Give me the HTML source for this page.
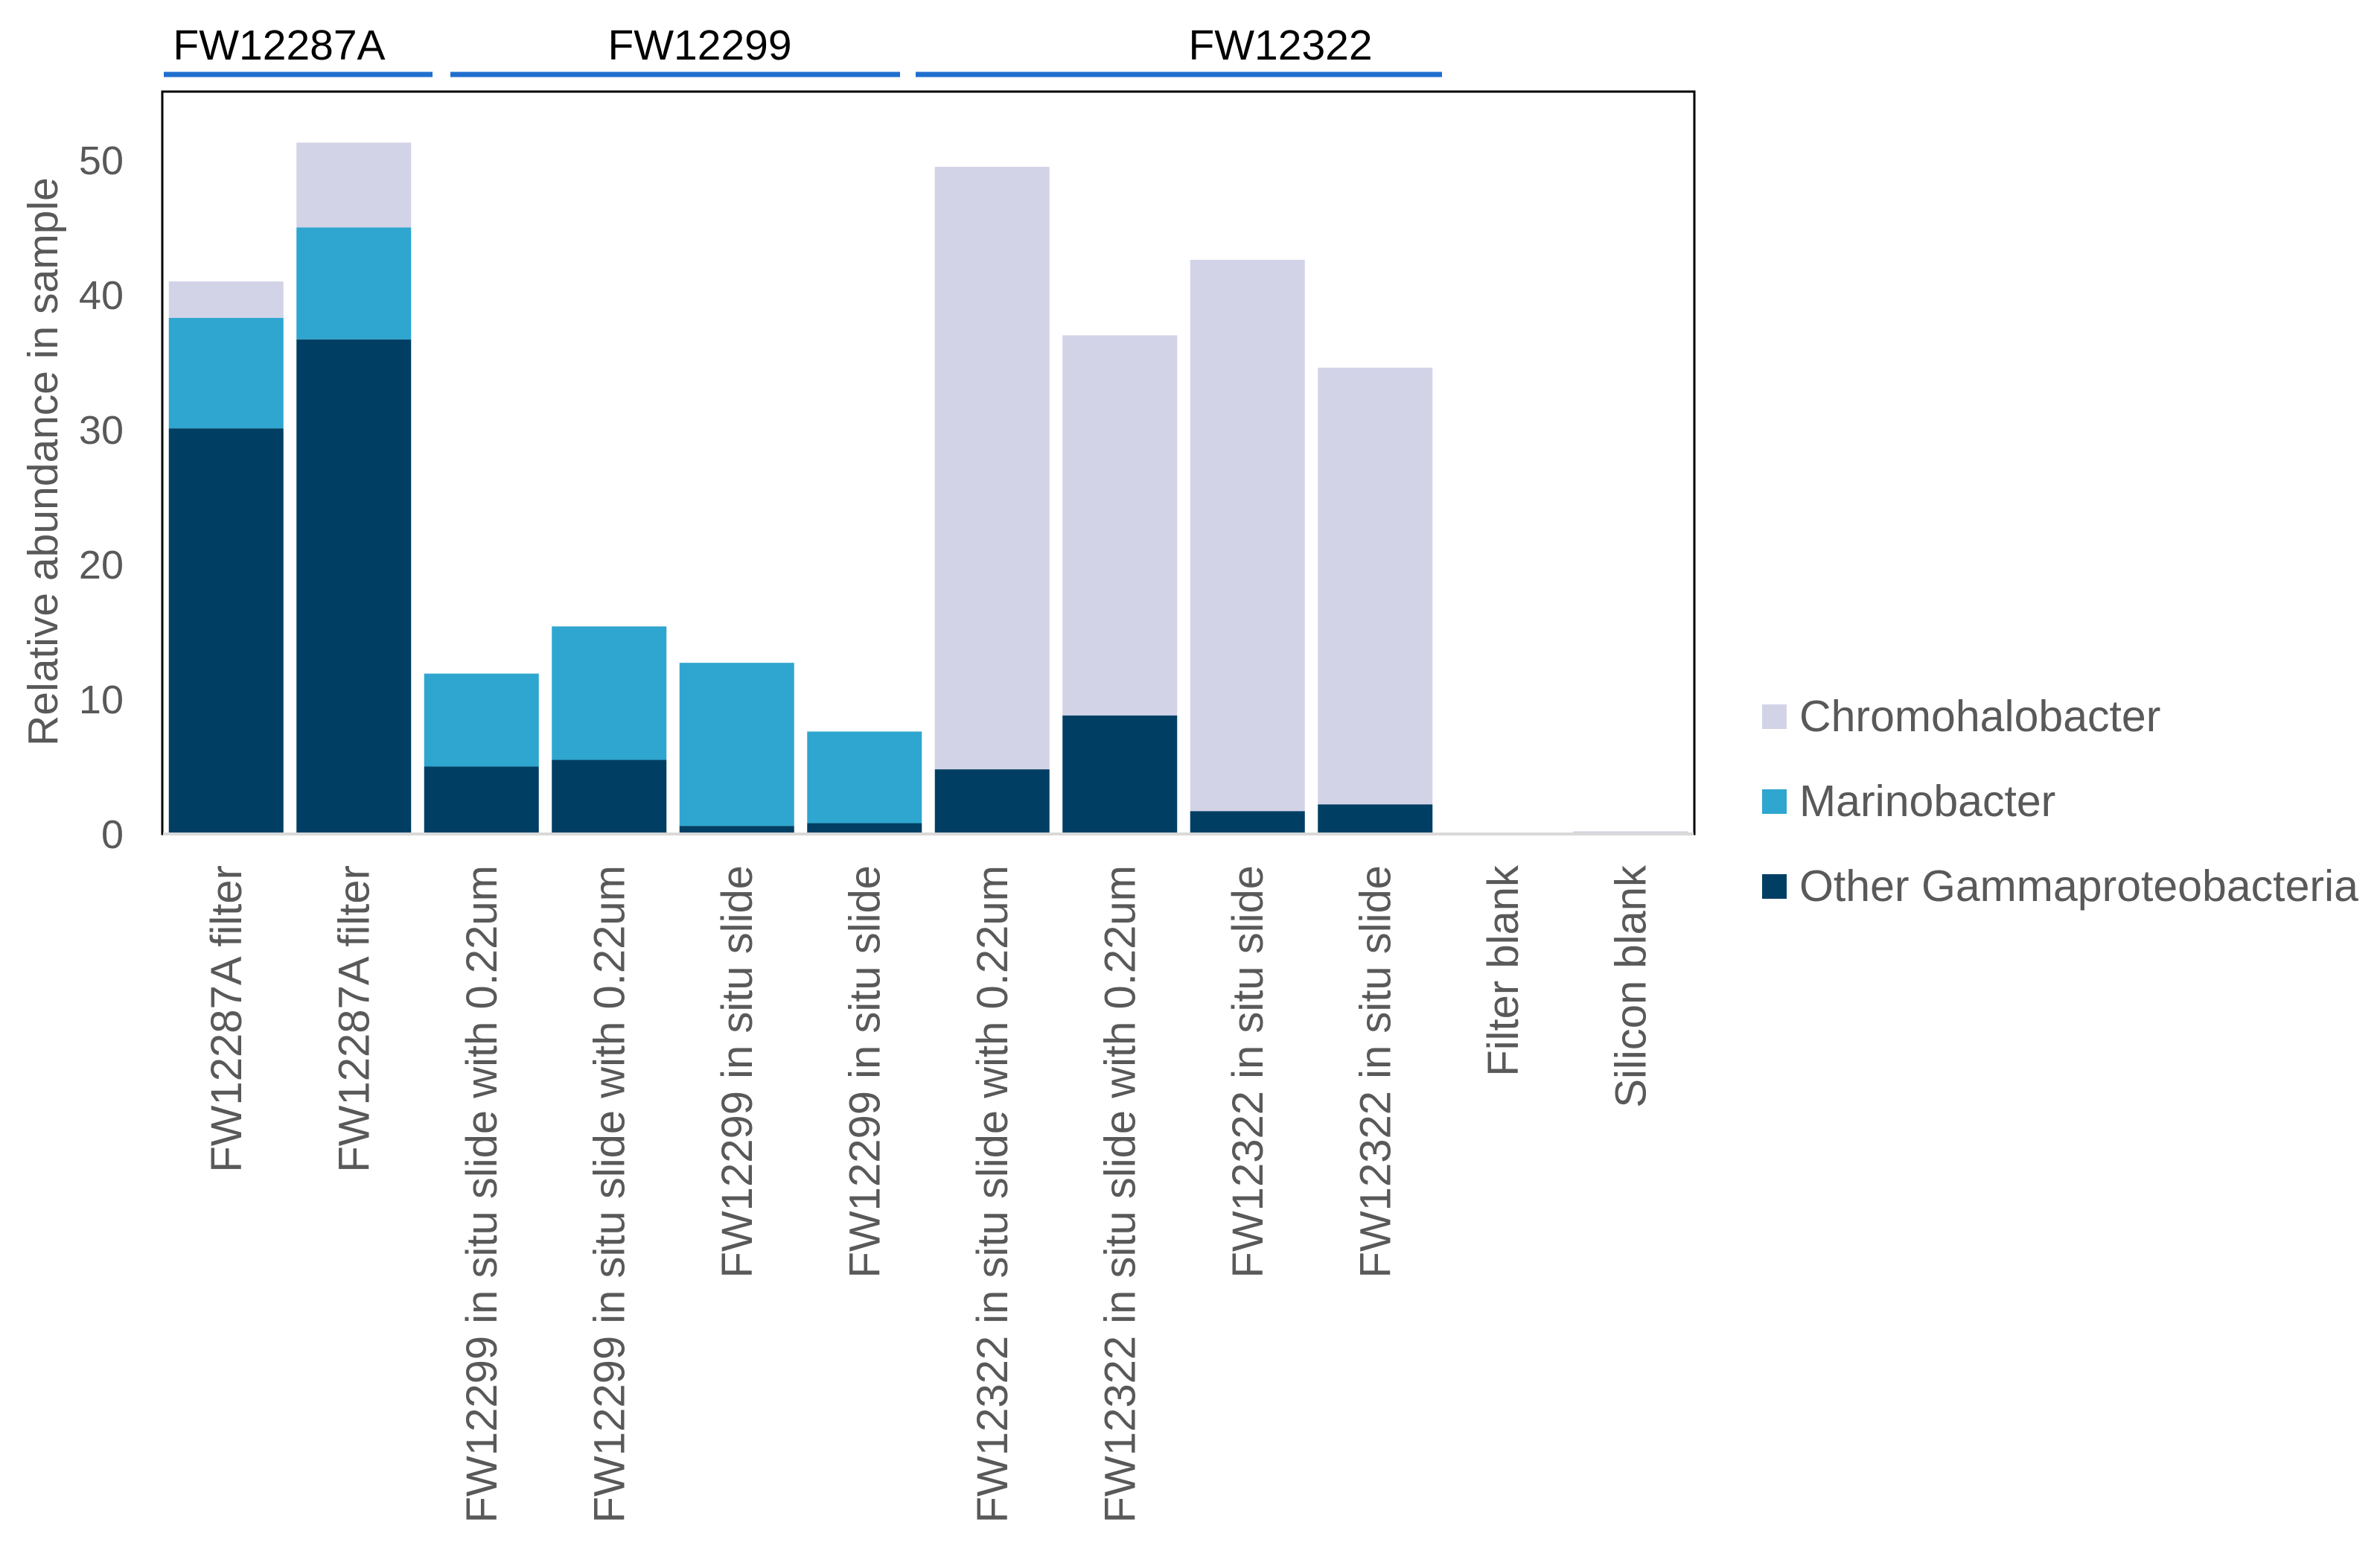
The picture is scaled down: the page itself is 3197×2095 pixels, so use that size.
<!DOCTYPE html>
<html><head><meta charset="utf-8"><style>
html,body{margin:0;padding:0;background:#fff;}
svg{display:block;font-family:"Liberation Sans",sans-serif;}
</style></head><body>
<svg id="chart" width="3197" height="2095" viewBox="0 0 3197 2095" xmlns="http://www.w3.org/2000/svg">
<g id="groups"></g>
<g id="bars"></g>
<g id="yaxis"></g>
<g id="xaxis"></g>
<rect x="218" y="123" width="2058" height="997" fill="none" stroke="#000" stroke-width="3"/>
<line x1="219" y1="1120" x2="2275" y2="1120" stroke="#d9d9d9" stroke-width="4"/>
<text transform="translate(77,620) rotate(-90)" text-anchor="middle" font-size="57" fill="#595959">Relative abundance in sample</text>
<g id="legend"></g>
</svg>
<script>
const categories = ["FW12287A filter","FW12287A filter","FW12299 in situ slide with 0.22um","FW12299 in situ slide with 0.22um","FW12299 in situ slide","FW12299 in situ slide","FW12322 in situ slide with 0.22um","FW12322 in situ slide with 0.22um","FW12322 in situ slide","FW12322 in situ slide","Filter blank","Silicon blank"];
const otherGamma = [30.1,36.7,5.0,5.5,0.6,0.8,4.8,8.8,1.7,2.2,0,0];
const marinobacter = [8.2,8.3,6.9,9.9,12.1,6.8,0,0,0,0,0,0];
const chromohalobacter = [2.7,6.3,0,0,0,0,44.7,28.2,40.9,32.4,0.05,0.2];
const yTicks = [0,10,20,30,40,50];
const seriesNames = ["Chromohalobacter","Marinobacter","Other Gammaproteobacteria"];
const groupNames = ["FW12287A","FW12299","FW12322"];

const NS="http://www.w3.org/2000/svg";
const plotL=218, plotR=2276, y0=1120, pxPer10=181;
const step=(plotR-plotL)/categories.length, barW=154;
const yS=v=>y0-v*pxPer10/10;
const xS=i=>plotL+step*i+step/2;
const colors={c:"#d3d3e8",m:"#2fa6cf",o:"#003f63"};
const bracketX1=[220,605,1230], bracketX2=[581,1209,1937], labelCX=[375,940,1720];
function mk(tag,attrs,parent){const e=document.createElementNS(NS,tag);for(const k in attrs)e.setAttribute(k,attrs[k]);parent.appendChild(e);return e;}

const bars=document.getElementById('bars');
categories.forEach((c,i)=>{
  let base=0;
  [[otherGamma,colors.o,'other-gamma'],[marinobacter,colors.m,'marinobacter'],[chromohalobacter,colors.c,'chromohalobacter']].forEach(([arr,col,nm])=>{
    const v=arr[i]; if(v<=0) return;
    const r=mk('rect',{x:xS(i)-barW/2,y:yS(base+v),width:barW,height:yS(base)-yS(base+v),fill:col},bars);
    
    
    base+=v;
  });
});

const ya=document.getElementById('yaxis');
yTicks.forEach(t=>{
  const tx=mk('text',{x:166,y:yS(t)+19,'text-anchor':'end','font-size':54,fill:'#595959'},ya);
  
  
  tx.textContent=t;
});

const xa=document.getElementById('xaxis');
categories.forEach((c,i)=>{
  const tx=mk('text',{transform:`translate(${xS(i)+20},1162) rotate(-90)`,'text-anchor':'end','font-size':58,fill:'#595959'},xa);
  
  
  tx.textContent=c;
});

const gg=document.getElementById('groups');
groupNames.forEach((g,k)=>{
  const ln=mk('line',{x1:bracketX1[k],y1:100,x2:bracketX2[k],y2:100,stroke:'#1f6fcf','stroke-width':7},gg);
  
  
  const tx=mk('text',{x:labelCX[k],y:80,'text-anchor':'middle','font-size':57,fill:'#000'},gg);
  
  
  tx.textContent=g;
});

const lg=document.getElementById('legend');
const legY=[962,1076,1190];
const legC=[colors.c,colors.m,colors.o];
seriesNames.forEach((s,k)=>{
  const r=mk('rect',{x:2367,y:legY[k]-16,width:33,height:33,fill:legC[k]},lg);
  
  
  const tx=mk('text',{x:2417,y:legY[k]+20,'font-size':59,fill:'#595959'},lg);
  
  
  tx.textContent=s;
});
</script>
</body></html>
